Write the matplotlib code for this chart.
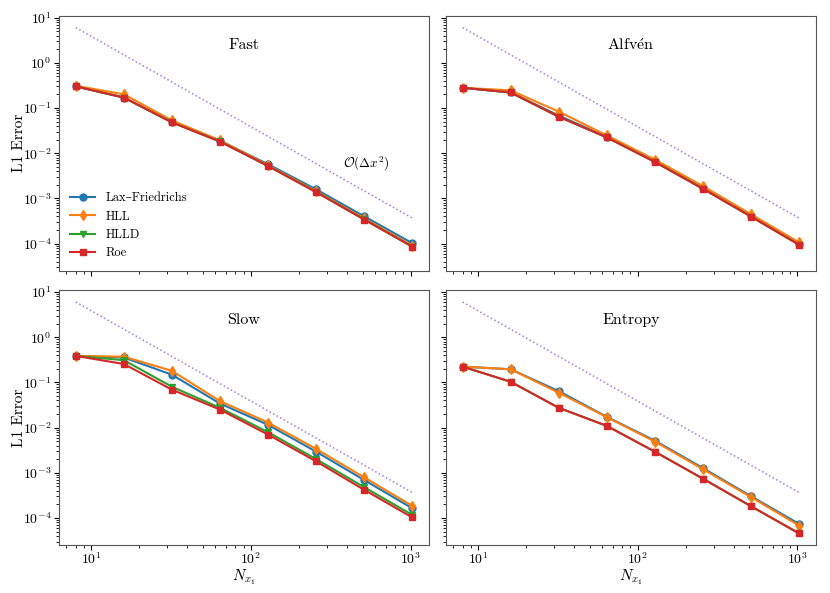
import numpy as np
import matplotlib
matplotlib.use("Agg")
import matplotlib.pyplot as plt

plt.rcParams['font.family'] = ['cmr10', 'DejaVu Serif']
plt.rcParams['mathtext.fontset'] = 'cm'
plt.rcParams['axes.formatter.use_mathtext'] = True
plt.rcParams['axes.unicode_minus'] = False
plt.rcParams['xtick.labelsize'] = 10
plt.rcParams['ytick.labelsize'] = 10
plt.rcParams['xtick.major.pad'] = 1.0
plt.rcParams['ytick.major.pad'] = 2.0

# grid resolutions
nx = [8, 16, 32, 64, 128, 256, 512, 1024]

solvers = ['Lax\u2013Friedrichs', 'HLL', 'HLLD', 'Roe']
colors = ['tab:blue', 'tab:orange', 'tab:green', 'tab:red']
markers = ['o', 'd', 'v', 's']

# L1 errors per wave, per solver (LF, HLL, HLLD, Roe)
fast_lf = [0.30, 0.17, 0.049, 0.0188, 0.0057, 0.00158, 4.0e-4, 1.02e-4]
fast_hll = [0.31, 0.20, 0.053, 0.0192, 0.0054, 0.00145, 3.6e-4, 9.0e-5]
fast_hlld = [0.30, 0.17, 0.048, 0.0182, 0.0052, 0.00140, 3.45e-4, 8.6e-5]
fast_roe = [0.30, 0.17, 0.048, 0.0180, 0.0052, 0.00137, 3.4e-4, 8.5e-5]

alfven_lf = [0.28, 0.22, 0.068, 0.0228, 0.0066, 0.00168, 4.1e-4, 9.8e-5]
alfven_hll = [0.28, 0.245, 0.083, 0.0247, 0.0072, 0.00187, 4.45e-4, 1.06e-4]
alfven_hlld = [0.28, 0.22, 0.064, 0.0223, 0.0064, 0.00163, 3.95e-4, 9.4e-5]
alfven_roe = [0.28, 0.22, 0.064, 0.0223, 0.0064, 0.00163, 3.95e-4, 9.4e-5]

slow_lf = [0.385, 0.355, 0.148, 0.034, 0.0115, 0.00293, 6.9e-4, 1.64e-4]
slow_hll = [0.385, 0.37, 0.18, 0.0385, 0.0129, 0.00336, 7.9e-4, 1.85e-4]
slow_hlld = [0.385, 0.31, 0.080, 0.0274, 0.0079, 0.00201, 4.8e-4, 1.17e-4]
slow_roe = [0.385, 0.255, 0.069, 0.025, 0.0070, 0.00179, 4.2e-4, 1.03e-4]

entropy_lf = [0.223, 0.195, 0.064, 0.0173, 0.00514, 0.00127, 3.03e-4, 7.4e-5]
entropy_hll = [0.223, 0.195, 0.059, 0.0170, 0.0049, 0.00120, 2.9e-4, 6.8e-5]
entropy_hlld = [0.223, 0.103, 0.0274, 0.0109, 0.00293, 7.4e-4, 1.82e-4, 4.56e-5]
entropy_roe = [0.223, 0.103, 0.0274, 0.0109, 0.00293, 7.4e-4, 1.82e-4, 4.56e-5]

waves = ['Fast', r'Alfv$\acute{\mathrm{e}}$n', 'Slow', 'Entropy']
errors = [
    [fast_lf, fast_hll, fast_hlld, fast_roe],
    [alfven_lf, alfven_hll, alfven_hlld, alfven_roe],
    [slow_lf, slow_hll, slow_hlld, slow_roe],
    [entropy_lf, entropy_hll, entropy_hlld, entropy_roe],
]

# second order reference line
ref_coeff = 384.0

fig, axes = plt.subplots(2, 2, figsize=(8.3, 5.93), dpi=100, sharex=True, sharey=True)
fig.subplots_adjust(left=0.071, right=0.983, bottom=0.081, top=0.973, wspace=0.045, hspace=0.078)

nx_arr = np.array(nx, dtype=float)
for ax, wave, errs in zip(axes.flat, waves, errors):
    for name, err, c, m in zip(solvers, errs, colors, markers):
        ax.loglog(nx, err, color=c, marker=m, markersize=5, lw=1.5, label=name)
    ax.loglog(nx, ref_coeff / nx_arr**2, ':', color='#9f7fe0', lw=1.1)
    ax.text(0.5, 0.885, wave, transform=ax.transAxes, ha='center', va='center', fontsize=11.5)
    for sp in ax.spines.values():
        sp.set_color('#555555')

axes[0, 0].text(530, 0.0058, r'$\mathcal{O}(\Delta x^2)$', ha='center', va='center', fontsize=9.5)
axes[0, 0].legend(loc='lower left', frameon=False, fontsize=9)

for ax in axes[:, 0]:
    ax.set_ylabel('L1 Error', fontsize=11)
    ax.yaxis.set_label_coords(-0.09, 0.5)
for ax in axes[1, :]:
    ax.set_xlabel(r'$N_{x_1}$', fontsize=11)
    ax.xaxis.set_label_coords(0.5, -0.09)

fig.savefig('out.png', dpi=100)
